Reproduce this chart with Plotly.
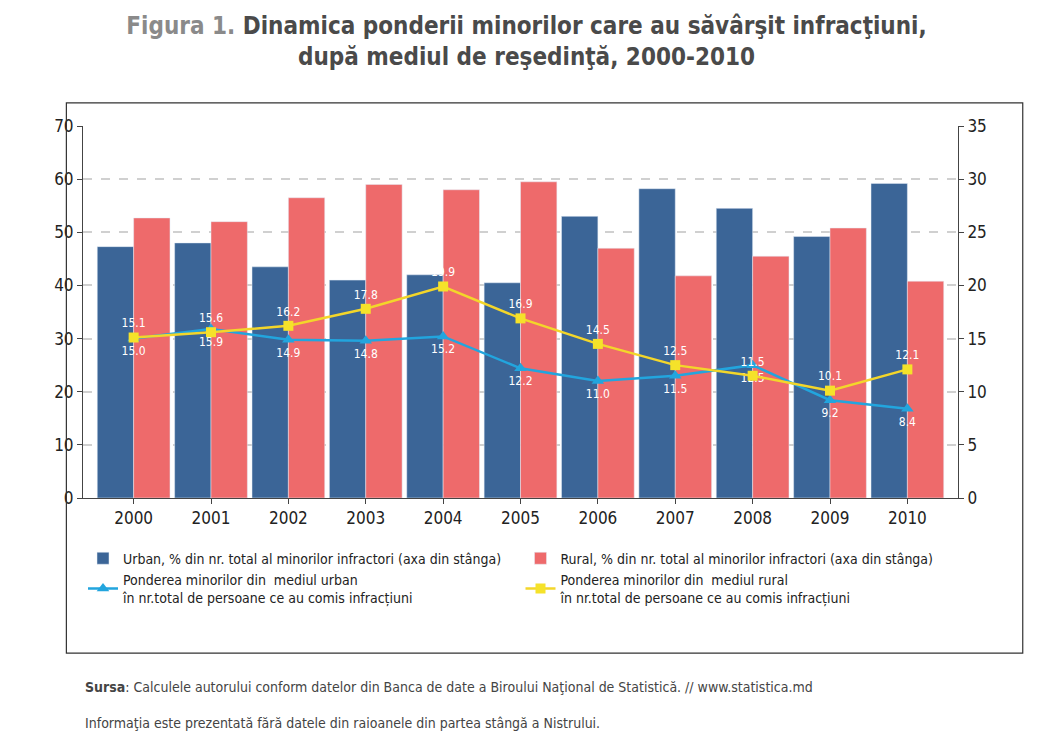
import plotly.graph_objects as go

years = [str(y) for y in range(2000, 2011)]
urban_pct = [47.3, 48.0, 43.5, 41.0, 42.0, 40.5, 53.0, 58.2, 54.5, 49.2, 59.2]
rural_pct = [52.7, 52.0, 56.5, 59.0, 58.0, 59.5, 47.0, 41.8, 45.5, 50.8, 40.8]
urban_share = [15.0, 15.9, 14.9, 14.8, 15.2, 12.2, 11.0, 11.5, 12.5, 9.2, 8.4]
rural_share = [15.1, 15.6, 16.2, 17.8, 19.9, 16.9, 14.5, 12.5, 11.5, 10.1, 12.1]

font_fam = "Liberation Sans Narrow, DejaVu Sans Condensed, sans-serif"

fig = go.Figure()
fig.add_trace(go.Bar(
    x=years, y=urban_pct, marker_color='#3b6597',
    name='Urban, % din nr. total al minorilor infractori (axa din stânga)',
))
fig.add_trace(go.Bar(
    x=years, y=rural_pct, marker_color='#ee6a6b',
    name='Rural, % din nr. total al minorilor infractori (axa din stânga)',
))
fig.add_trace(go.Scatter(
    x=years, y=urban_share, yaxis='y2', mode='lines+markers+text',
    line=dict(color='#22a5de', width=2.5),
    marker=dict(symbol='triangle-up', size=11, color='#22a5de'),
    text=[f"{v:.1f}" for v in urban_share], textposition='bottom center',
    textfont=dict(color='white', size=12), cliponaxis=False,
    name='Ponderea minorilor din  mediul urban<br>în nr.total de persoane ce au comis infracțiuni',
))
fig.add_trace(go.Scatter(
    x=years, y=rural_share, yaxis='y2', mode='lines+markers+text',
    line=dict(color='#f3d62a', width=2.5),
    marker=dict(symbol='square', size=10, color='#f5e22a'),
    text=[f"{v:.1f}" for v in rural_share], textposition='top center',
    textfont=dict(color='white', size=12), cliponaxis=False,
    name='Ponderea minorilor din  mediul rural<br>în nr.total de persoane ce au comis infracțiuni',
))

fig.update_layout(
    width=1037, height=734,
    margin=dict(l=75, r=87, t=118, b=244),
    paper_bgcolor='white', plot_bgcolor='white',
    font=dict(family=font_fam, size=15, color='#222'),
    barmode='group', bargap=0.06, bargroupgap=0.0,
    showlegend=True,
    legend=dict(orientation='h', x=0.0, y=-0.12, xanchor='left', yanchor='top',
                entrywidth=0.5, entrywidthmode='fraction',
                font=dict(size=14), tracegroupgap=10, traceorder='normal'),
    xaxis=dict(showline=True, linecolor='#444', ticks='outside', tickcolor='#444',
               tickfont=dict(size=17)),
    yaxis=dict(range=[0, 70], dtick=10, showgrid=True, gridcolor='#d0d0d0',
               griddash='dash', gridwidth=1.5, showline=True, linecolor='#444',
               ticks='outside', tickcolor='#444', tickfont=dict(size=17), zeroline=False),
    yaxis2=dict(range=[0, 35], dtick=5, overlaying='y', side='right', showgrid=False,
                showline=True, linecolor='#444', ticks='outside', tickcolor='#444',
                tickfont=dict(size=17), zeroline=False),
    title=dict(
        text="<span style='color:#8a8a8a'>Figura 1.</span> Dinamica ponderii minorilor care au săvârşit infracţiuni,<br>după mediul de reşedinţă, 2000-2010",
        x=0.5, xanchor='center', y=0.965, yanchor='top',
        font=dict(family="DejaVu Sans Condensed, sans-serif", size=24, color='#4a4a4a', weight='bold'),
    ),
)

fig.add_shape(type='rect', xref='paper', yref='paper',
              x0=-0.019, x1=1.074, y0=-0.417, y1=1.062,
              line=dict(color='#333', width=1.2))

fig.add_annotation(
    xref='paper', yref='paper', x=0.0, y=-0.48, xanchor='left', yanchor='top',
    align='left', showarrow=False,
    font=dict(family="DejaVu Sans Condensed, sans-serif", size=14, color='#444'),
    text="<b>Sursa</b>: Calculele autorului conform datelor din Banca de date a Biroului Naţional de Statistică. // www.statistica.md"
         "<br><span style='font-size:8px'> </span><br>Informaţia este prezentată fără datele din raioanele din partea stângă a Nistrului.",
)

fig.write_html("out.html")
